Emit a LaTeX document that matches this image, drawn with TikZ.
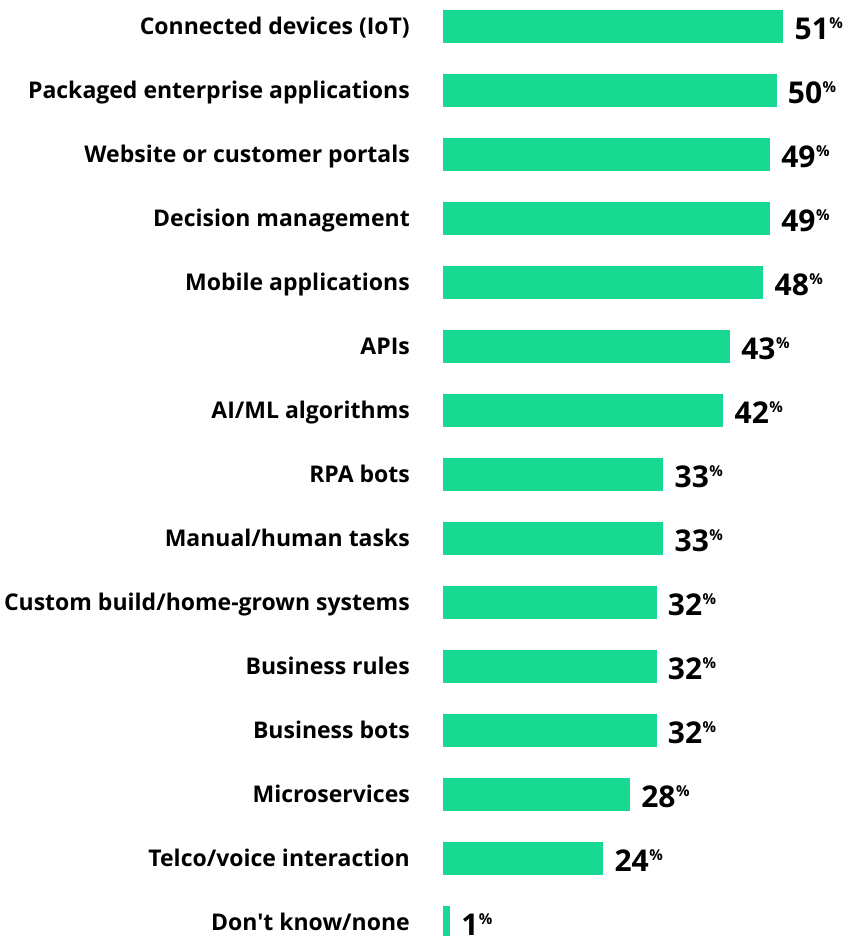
\documentclass[tikz,border=0pt]{standalone}
\usepackage{fontspec}
\newfontfamily\chartfont{Open Sans}
\definecolor{barg}{HTML}{17D991}
\tikzset{
  lab/.style={anchor=east, inner sep=0pt, font=\chartfont\fontsize{23}{23}\selectfont\bfseries, text height=16.4pt, text depth=0pt},
  bar/.style={fill=barg, draw=none, anchor=west, inner sep=0pt, minimum height=33pt},
  val/.style={anchor=west, inner sep=0pt, font=\chartfont\fontsize{30}{30}\selectfont\bfseries, text height=21.4pt, text depth=0pt}
}
\newcommand\pctval[1]{#1\hspace{0.5pt}\raisebox{10.3pt}{\fontsize{15}{15}\selectfont\%}}
\begin{document}
\begin{tikzpicture}[x=1pt,y=-1pt]
\useasboundingbox (0,0) rectangle (845,936);
\clip (0,0) rectangle (845,936);
\foreach \i/\v/\t in {
  1/51/{Connected devices (IoT)},
  2/50/{Packaged enterprise applications},
  3/49/{Website or customer portals},
  4/49/{Decision management},
  5/48/{Mobile applications},
  6/43/{APIs},
  7/42/{AI/ML algorithms},
  8/33/{RPA bots},
  9/33/{Manual/human tasks},
  10/32/{Custom build/home-grown systems},
  11/32/{Business rules},
  12/32/{Business bots},
  13/28/{Microservices},
  14/24/{Telco/voice interaction},
  15/1/{Don't know/none}}{
  \pgfmathsetmacro\yy{26.5+64*(\i-1)}
  \pgfmathsetmacro\ww{6.667*\v}
  \node[bar, minimum width=\ww pt] (bar\i) at (443,\yy) {};
  \node[lab] (lab\i) at (410,\yy) {\t};
  \node[val] (val\i) at ([xshift=11pt,yshift=-2pt]bar\i.east) {\pctval{\v}};
}
\end{tikzpicture}
\end{document}
